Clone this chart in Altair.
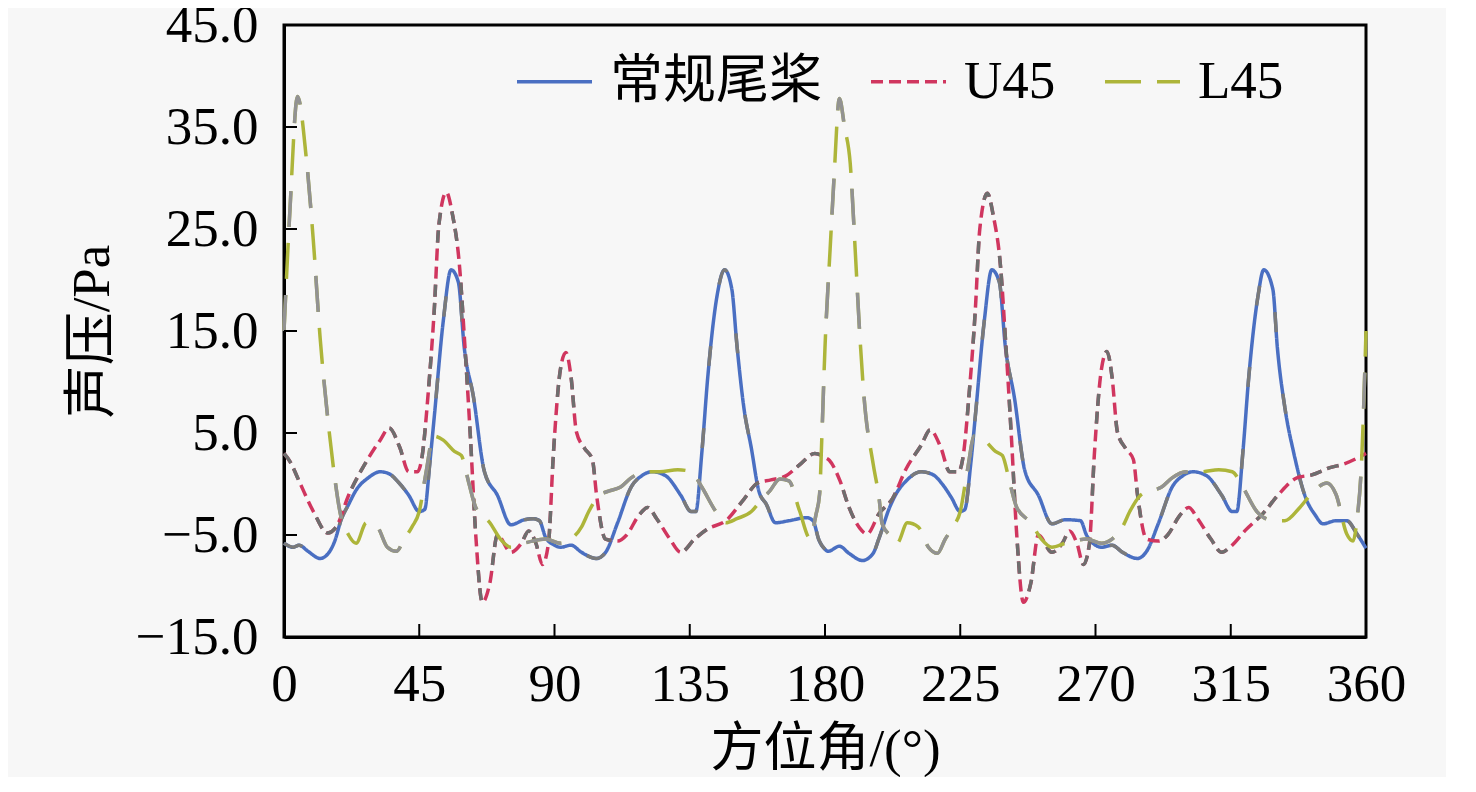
import altair as alt
import pandas as pd

# ---------------- data ----------------
series_names = ["常规尾桨", "U45", "L45"]
series_colors = ["#4a6fc2", "#d0365f", "#adb53a"]
series_dashes = [[1, 0], [12, 6], [36, 16]]
# grey segments that alternate with the coloured ones along each curve
grey_colors = ["#7a7a7a", "#6e6e6e", "#929292"]
grey_dashes = [[20, 62], [12, 6, 12, 42], [36, 68]]

x_tick_values = [0, 45, 90, 135, 180, 225, 270, 315, 360]
y_tick_values = [-15, -5, 5, 15, 25, 35, 45]

conv_ang = [0, 3, 5, 8, 12, 15, 17, 19, 21.5, 24, 28, 32, 35, 38, 41.5, 45, 46.8, 48.5, 50, 53,
            55.6, 58, 60, 63, 66.7, 71, 75.5, 80, 83, 85, 87, 90, 92, 95.5, 99, 104, 107, 111,
            115.5, 119, 122.5, 127, 132, 135.5, 137, 139, 141, 144, 146.6, 149, 150.7, 153,
            155.5, 158, 160.5, 163.5, 168, 174, 176, 178, 180,
            181, 184.8, 188, 192.5, 196, 198, 201.5, 204, 207, 212, 216, 219, 222, 225, 226.5,
            228.5, 230, 233, 235.5, 238, 240, 243, 246.5, 251, 255.5, 260, 265, 267, 270, 272,
            275.5, 279, 284, 287, 291, 295.5, 299, 302.5, 307, 312, 315.5, 317, 319, 321, 324,
            326, 329, 330.5, 333, 336, 340, 343, 345.7, 350, 353.6, 357, 360]
conv_val = [-5.8, -6.2, -6.0, -6.6, -7.3, -6.7, -5.5, -3.5, -2.0, -0.6, 0.6, 1.2, 1.0, 0.2, -1.1,
            -2.7, -2.5, 2.0, 6.6, 16.0, 21.0, 19.8, 13.3, 8.6, 1.2, -1.1, -4.0, -3.5, -3.4, -3.6,
            -5.2, -6.0, -6.2, -6.0, -6.7, -7.3, -6.7, -3.8, -0.3, 0.8, 1.2, 0.8, -1.1, -2.7, -2.7,
            3.0, 10.5, 18.3, 21.0, 19.1, 13.6, 7.5, 3.5, -0.7, -2.0, -3.8, -3.6, -3.3, -3.6, -5.5,
            -6.4,
            -6.6, -6.1, -6.8, -7.5, -6.8, -5.3, -2.3, -0.8, 0.3, 1.2, 0.9, 0.0, -1.3, -2.7, -2.5,
            2.0, 6.6, 16.0, 21.0, 19.8, 13.5, 8.5, 1.3, -1.1, -3.9, -3.5, -3.6, -5.0, -6.0, -6.2,
            -6.0, -6.7, -7.3, -6.6, -3.8, -0.3, 0.8, 1.2, 0.8, -1.1, -2.7, -2.7, 3.0, 10.5, 18.3,
            21.0, 19.1, 13.4, 7.5, 3.0, -1.4, -3.0, -3.9, -3.6, -3.6, -4.9, -6.3]

u45_ang = [0, 2, 5, 9.8, 14.5, 17.4, 21.5, 27, 32, 35, 38.5, 41.5, 44.4, 46, 48, 50, 51.5, 54, 56,
           58.5, 60, 62, 63.8, 66, 68.5, 71, 75.5, 79, 81.4, 83.8, 86, 88, 89.6, 92, 93.8, 95.5,
           97.3, 100, 102.6, 104, 107, 111, 114, 118, 121, 124, 128.4, 132, 136.6, 141, 147, 153,
           157.6, 162, 167, 172, 176.6, 180,
           181.5, 185, 188, 191.5, 194, 198, 202.5, 207, 212, 215, 218.5, 221.5, 224.4, 226, 228,
           230, 231.5, 234, 236, 238.5, 240, 242, 243.8, 246, 248.5, 251, 255.5, 259, 261.4, 263.8,
           266, 268, 269.6, 272, 273.8, 275.5, 277.3, 280, 282.6, 284, 287, 291, 294, 298, 301,
           304, 308.4, 312, 314.7, 320, 325.7, 331, 337, 342, 348, 353, 360]
u45_val = [3.0, 2.2, 0.3, -2.7, -4.8, -4.2, -1.1, 2.0, 4.3, 5.5, 3.6, 1.2, 1.2, 2.8, 9.0, 17.1,
           25.3, 28.6, 26.5, 21.0, 14.4, 4.7, -5.0, -11.6, -9.7, -5.0, -6.7, -5.8, -4.6, -5.8, -7.9,
           -5.8, 2.8, 11.3, 12.9, 10.5, 5.1, 3.5, 2.4, -1.1, -5.4, -5.6, -5.0, -3.1, -2.3, -3.4,
           -5.4, -6.7, -5.4, -4.4, -3.6, -1.5, 0.1, 0.4, 0.8, 2.0, 3.0, 2.6,
           2.3, 0.3, -2.3, -4.3, -4.9, -2.9, -1.4, 1.5, 3.8, 5.3, 3.6, 1.2, 1.2, 2.8, 9.0,
           17.0, 25.0, 28.5, 26.3, 21.0, 14.4, 4.7, -5.0, -11.6, -9.7, -5.0, -6.7, -5.8, -4.6, -5.8,
           -7.9, -5.8, 2.8, 11.3, 13.0, 10.5, 5.1, 3.5, 2.4, -1.1, -5.4, -5.6, -5.0, -3.1, -2.3,
           -3.4, -5.4, -6.7, -6.2, -4.5, -2.9, -1.0, 0.6, 0.9, 1.6, 2.0, 3.0]

l45_ang = [0, 2, 4.5, 7.4, 9.8, 12, 14.5, 16.8, 18.6, 21.5, 24, 27.4, 31, 34.4, 37.4, 40, 42.6, 45,
           47.3, 49.7, 53, 56.7, 59, 61.5, 63.8, 68.5, 72, 75.5, 80, 82.6, 87, 92, 95.5, 99, 101.4,
           105, 108, 112, 115.5, 120, 125, 131, 135.5, 139, 143.7, 147, 150.7, 155.5, 159, 161.6,
           165, 168, 171.5, 175, 177, 178.2, 179, 180, 181.7, 183, 184.8, 186.5, 188.4, 190, 191.5,
           193, 196, 198, 199, 201.5, 204, 207.4, 211, 214.4, 217.4, 220, 222.6, 225, 227.3, 229.7,
           233, 236.7, 239, 241.5, 243.8, 248.5, 252, 255.5, 260, 262.6, 267, 272, 275.5, 279,
           281.4, 285, 288, 292, 295.5, 300, 305, 311, 315.5, 319, 323.7, 326, 330, 333, 338, 342.6,
           347, 350, 353.6, 355.7, 357, 358.5, 360]
l45_val = [15.0, 27.0, 38.0, 32.0, 23.7, 14.4, 6.6, 0.8, -2.7, -5.0, -5.8, -3.8, -4.2, -6.2, -6.6,
           -5.4, -4.2, -2.7, 1.2, 4.7, 4.3, 3.2, 2.8, 0.1, -2.3, -3.8, -5.4, -6.2, -5.8, -5.6, -5.4,
           -5.8, -5.4, -4.2, -2.7, -1.1, -0.7, -0.3, 0.6, 1.2, 1.2, 1.4, 1.2, -0.3, -2.7, -3.8,
           -3.4, -2.7, -1.5, -0.7, 0.5, 0.3, -2.6, -5.3, -3.0, -1.0, 5.0, 13.4, 23.0, 30.0, 37.8,
           35.0, 31.4, 23.2, 15.0, 8.5, 2.0, -1.4, -3.9, -5.0, -5.8, -3.8, -4.2, -6.2, -6.8, -5.4,
           -4.2, -2.7, 1.2, 4.7, 4.3, 3.2, 2.8, 0.1, -2.3, -3.8, -5.4, -6.2, -5.8, -5.6, -5.4, -5.8,
           -5.4, -4.2, -2.7, -1.1, -0.7, -0.3, 0.6, 1.2, 1.2, 1.4, 1.2, -0.3, -2.7, -3.3, -3.6,
           -3.6, -2.3, -0.7, 0.1, -1.0, -4.9, -5.6, -3.5, 2.0, 15.0]

# ---------------- table ----------------
rows = []
for name, angs, vals in [(series_names[0], conv_ang, conv_val),
                         (series_names[1], u45_ang, u45_val),
                         (series_names[2], l45_ang, l45_val)]:
    for i, (a, v) in enumerate(zip(angs, vals)):
        rows.append({"angle": a, "value": v, "series": name, "idx": i})
df = pd.DataFrame(rows)

W, H = 1082, 612
FONT = "Liberation Serif, Times New Roman, Noto Sans CJK SC"
FS = 53
LW = 3.5

xscale = alt.Scale(domain=[0, 360], nice=False, zero=False)
yscale = alt.Scale(domain=[-15, 45], nice=False, zero=False)

legend = alt.Legend(
    title=None, orient="none", legendX=231, legendY=17, direction="horizontal",
    symbolType="stroke", symbolSize=5625, symbolStrokeWidth=LW,
    labelFontSize=FS, labelFont=FONT, labelColor="black", labelOffset=16,
    columnPadding=42, labelLimit=0, padding=0,
)

x_enc = alt.X("angle:Q", scale=xscale,
              axis=alt.Axis(values=x_tick_values, format="d", title="方位角/(°)",
                            labelFlush=False, labelOverlap=False))
y_enc = alt.Y("value:Q", scale=yscale,
              axis=alt.Axis(values=y_tick_values, format=".1f", title="声压/Pa",
                            labelOverlap=False))

layers = []
for i, name in enumerate(series_names):
    base = alt.Chart(df).transform_filter(alt.datum.series == name)
    coloured = base.mark_line(strokeWidth=LW, interpolate="monotone").encode(
        x=x_enc, y=y_enc,
        color=alt.Color("series:N", scale=alt.Scale(domain=series_names, range=series_colors),
                        legend=legend),
        strokeDash=alt.StrokeDash("series:N",
                                  scale=alt.Scale(domain=series_names, range=series_dashes),
                                  legend=legend),
        order="idx:Q",
    )
    grey = base.mark_line(strokeWidth=LW, interpolate="monotone", color=grey_colors[i],
                          strokeDash=grey_dashes[i]).encode(
        x=alt.X("angle:Q", scale=xscale), y=alt.Y("value:Q", scale=yscale), order="idx:Q")
    layers += [coloured, grey]

xt = pd.DataFrame({"angle": x_tick_values})
yt = pd.DataFrame({"value": y_tick_values})

xticks = alt.Chart(xt).mark_rule(color="black", strokeWidth=2).encode(
    x=alt.X("angle:Q", scale=xscale), y=alt.value(H), y2=alt.value(H - 13))
yticks = alt.Chart(yt).mark_rule(color="black", strokeWidth=2).encode(
    y=alt.Y("value:Q", scale=yscale), x=alt.value(0), x2=alt.value(13))

chart = alt.layer(*layers, xticks, yticks).properties(
    width=W, height=H, background="#f7f7f7",
    padding={"left": 276, "top": 17, "right": 80, "bottom": 140},
    autosize=alt.AutoSizeParams(type="none"),
).configure_view(
    stroke="black", strokeWidth=3, fill="#f7f7f7"
).configure_axis(
    domainColor="black", domainWidth=3, ticks=False, grid=False,
    labelFont=FONT, labelFontSize=FS, labelColor="black",
    titleFont=FONT, titleFontSize=FS, titleFontWeight="normal", titleColor="black",
).configure_axisX(
    labelPadding=21, titlePadding=12
).configure_axisY(
    labelPadding=26, titlePadding=16
)

chart.save("out.html", embed_options={"renderer": "svg", "actions": False})
